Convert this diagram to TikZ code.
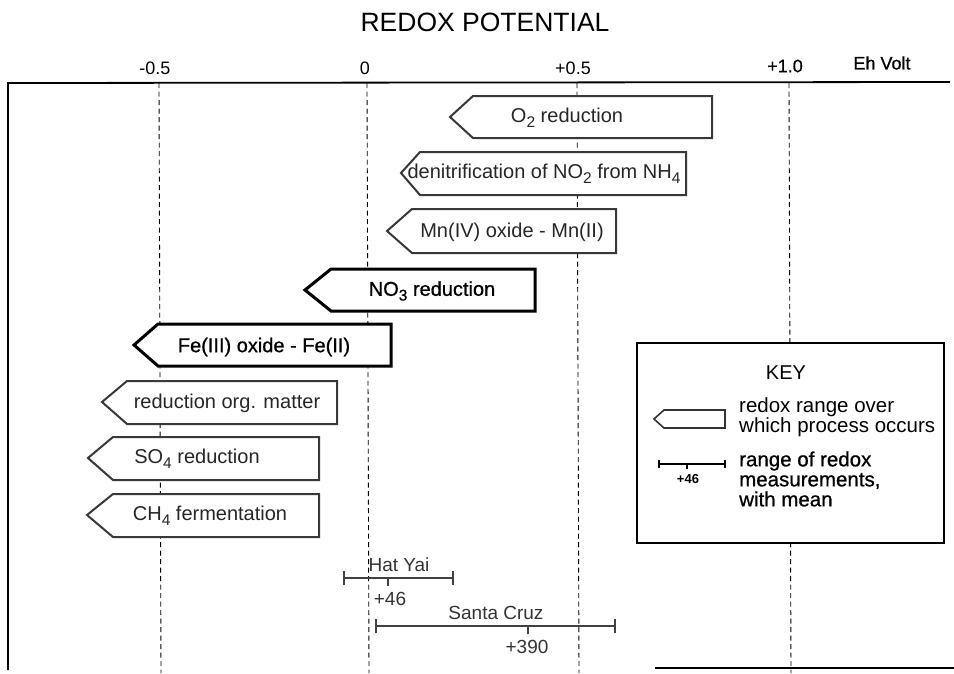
\documentclass[tikz,border=0pt]{standalone}
\usepackage{fontspec}
\setmainfont{Liberation Sans}[BoldFont=Liberation Sans, BoldFeatures={FakeBold=0.8}]
\newfontfamily\realbold{Liberation Sans Bold}
\newcommand\lowsub[1]{\raisebox{-0.45ex}{\fontsize{15.5}{15.5}\selectfont #1}}
\tikzset{
  frameline/.style={line width=1.8pt, black},
  gridline/.style={line width=0.9pt, black, dash pattern=on 5pt off 3.5pt},
  lightbox/.style={line width=2pt, draw=black!78, fill=white, line join=miter},
  boldbox/.style={line width=3pt, draw=black, fill=white, line join=miter},
  boxtext/.style={inner sep=0pt, font=\fontsize{20}{20}\selectfont, text=black!85},
  boldtext/.style={inner sep=0pt, font=\fontsize{20}{20}\selectfont\bfseries, text=black},
  axislbl/.style={inner sep=0pt, font=\fontsize{18}{18}\selectfont},
  keytext/.style={inner sep=0pt, anchor=west, align=left, font=\fontsize{20.5}{20}\selectfont\bfseries},
  rangebar/.style={line width=2pt, draw=black!75},
  rangetext/.style={inner sep=0pt, font=\fontsize{19}{19}\selectfont, text=black!80},
}
\begin{document}
\begin{tikzpicture}[x=1pt, y=-1pt]
\useasboundingbox (0,0) rectangle (954,673);
\fill[white] (0,0) rectangle (954,673);

% title and axis labels
\node[inner sep=0pt, font=\fontsize{26.5}{26.5}\selectfont] (title) at (485,22) {REDOX POTENTIAL};
\node[axislbl] (lm05) at (155,68) {-0.5};
\node[axislbl] (l0) at (365,68) {0};
\node[axislbl] (lp05) at (573,68) {+0.5};
\node[axislbl, font=\fontsize{18}{18}\selectfont\bfseries] (lp10) at (785,66) {+1.0};
\node[axislbl, font=\fontsize{18}{18}\selectfont\bfseries] (leh) at (882,63) {Eh Volt};

% frame
\coordinate (ftl) at (8,83);
\coordinate (ftr) at (950,82);
\coordinate (fbl) at (8,670);
\coordinate (fbr1) at (655,668);
\coordinate (fbr2) at (954,668);
\draw[frameline] (ftr) -- (ftl) -- (fbl);
\draw[frameline] (fbr1) -- (fbr2);

% dashed grid lines
\foreach \n/\x in {a/159, b/367, c/577, d/789} {
  \coordinate (g\n top) at (\x,83);
  \coordinate (g\n bot) at (\x+2,673);
  \draw[gridline] (g\n top) -- (g\n bot);
}

% process boxes
\draw[lightbox] (450,117) -- (473,96) -- (712,96) -- (712,138) -- (473,138) -- cycle;
\node[boxtext] (o2) at (567,118) {O\lowsub{2} reduction};

\draw[lightbox] (401,173) -- (420,152) -- (686,152) -- (686,195) -- (420,195) -- cycle;
\node[boxtext] (den) at (544,174) {denitrification of NO\lowsub{2} from NH\lowsub{4}};

\draw[lightbox] (387,231) -- (412,209) -- (616,209) -- (616,253) -- (412,253) -- cycle;
\node[boxtext] (mn) at (512,232) {Mn(IV) oxide - Mn(II)};

\draw[boldbox] (305,290) -- (331,269) -- (535,269) -- (535,311) -- (331,311) -- cycle;
\node[boldtext] (no3) at (432,291) {NO\lowsub{3} reduction};

\draw[boldbox] (134,345) -- (158,324) -- (391,324) -- (391,366) -- (158,366) -- cycle;
\node[boldtext] (fe) at (264,347) {Fe(III) oxide - Fe(II)};

\draw[lightbox] (102,402) -- (127,381) -- (337,381) -- (337,424) -- (127,424) -- cycle;
\node[boxtext] (org) at (227,403) {reduction org. matter};

\draw[lightbox] (88,458) -- (113,437) -- (319,437) -- (319,480) -- (113,480) -- cycle;
\node[boxtext] (so4) at (197,459) {SO\lowsub{4} reduction};

\draw[lightbox] (87,515) -- (113,494) -- (319,494) -- (319,537) -- (113,537) -- cycle;
\node[boxtext] (ch4) at (210,516) {CH\lowsub{4} fermentation};

% measurement ranges
\coordinate (hyL) at (344,578);
\coordinate (hyR) at (453,578);
\coordinate (hyM) at (388,578);
\coordinate (hyMd) at (388,586);
\draw[rangebar] (hyL) -- (hyR);
\draw[rangebar] ([yshift=-7pt]hyL) -- ([yshift=7pt]hyL);
\draw[rangebar] ([yshift=-7pt]hyR) -- ([yshift=7pt]hyR);
\draw[rangebar] (hyM) -- (hyMd);
\node[rangetext] (hy) at (399,565) {Hat Yai};
\node[rangetext] (hym) at (390,599) {+46};

\coordinate (scL) at (376,626);
\coordinate (scR) at (615,626);
\coordinate (scM) at (528,626);
\coordinate (scMd) at (528,634);
\draw[rangebar] (scL) -- (scR);
\draw[rangebar] ([yshift=-7pt]scL) -- ([yshift=7pt]scL);
\draw[rangebar] ([yshift=-7pt]scR) -- ([yshift=7pt]scR);
\draw[rangebar] (scM) -- (scMd);
\node[rangetext] (sc) at (496,613) {Santa Cruz};
\node[rangetext] (scm) at (527,647) {+390};

% key
\draw[line width=1.8pt, fill=white] (637,343) rectangle (944,543);
\node[inner sep=0pt, font=\fontsize{20}{20}\selectfont] (key) at (786,373) {KEY};
\draw[line width=1.6pt, draw=black!80, fill=white] (654,419) -- (664,410) -- (725,410) -- (725,428) -- (664,428) -- cycle;
\node[keytext, font=\fontsize{20.5}{20}\selectfont] (k1) at (739,417) {redox range over\\which process occurs};
\coordinate (kL) at (659,464);
\coordinate (kR) at (725,464);
\coordinate (kM) at (687,464);
\coordinate (kMd) at (687,469);
\draw[line width=1.3pt] (kL) -- (kR);
\draw[line width=1.3pt] ([yshift=-4pt]kL) -- ([yshift=4pt]kL);
\draw[line width=1.3pt] ([yshift=-4pt]kR) -- ([yshift=4pt]kR);
\draw[line width=1.3pt] (kM) -- (kMd);
\node[inner sep=0pt, font=\realbold\fontsize{13}{13}\selectfont] (km) at (688,479) {+46};
\node[keytext] (k2) at (739,479) {range of redox\\measurements,\\with mean};
\end{tikzpicture}
\end{document}
